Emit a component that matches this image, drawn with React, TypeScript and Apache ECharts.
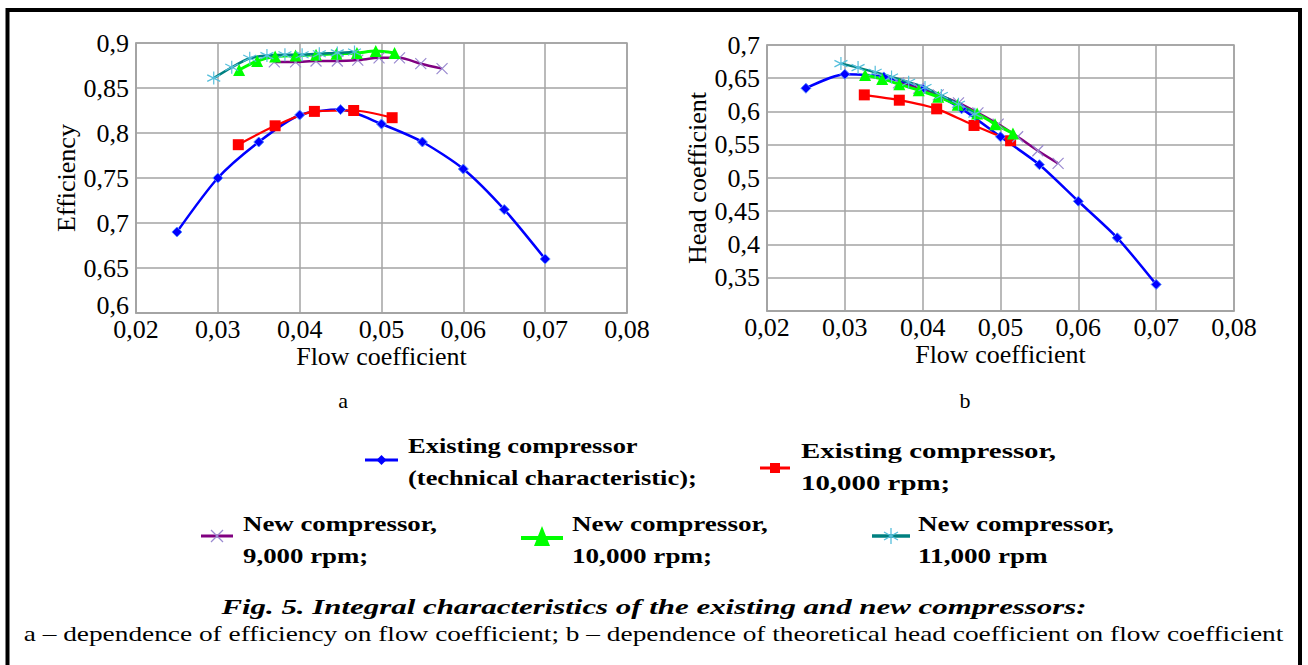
import React, { useEffect, useRef } from "react";
import * as echarts from "echarts";

// ---- data ----
const existingFlow = [0.025, 0.03, 0.035, 0.04, 0.045, 0.05, 0.055, 0.06, 0.065, 0.07];
const existingEff = [0.69, 0.75, 0.79, 0.82, 0.826, 0.81, 0.79, 0.76, 0.715, 0.66];
const existingHead = [0.635, 0.656, 0.652, 0.634, 0.604, 0.562, 0.52, 0.465, 0.41, 0.34];

const exist10Flow = [0.0325, 0.037, 0.0418, 0.0466, 0.0513];
const exist10Eff = [0.787, 0.808, 0.824, 0.825, 0.817];
const exist10Head = [0.625, 0.617, 0.604, 0.579, 0.556];

const new9Flow = [0.0369, 0.0395, 0.042, 0.0446, 0.0471, 0.0497, 0.0522, 0.0548, 0.0574];
const new9Eff = [0.879, 0.879, 0.88, 0.88, 0.881, 0.8835, 0.8835, 0.877, 0.8715];
const new9Head = [0.643, 0.635, 0.625, 0.613, 0.598, 0.581, 0.562, 0.541, 0.522];

const new10Flow = [0.0326, 0.0348, 0.037, 0.0395, 0.042, 0.0445, 0.047, 0.0493, 0.0516];
const new10Eff = [0.87, 0.88, 0.885, 0.886, 0.887, 0.888, 0.889, 0.891, 0.889];
const new10Head = [0.655, 0.649, 0.641, 0.632, 0.622, 0.61, 0.597, 0.581, 0.567];

const new11Flow = [0.0295, 0.0317, 0.0339, 0.036, 0.0382, 0.0403, 0.0424, 0.0446, 0.0467];
const new11Eff = [0.861, 0.873, 0.883, 0.886, 0.887, 0.887, 0.888, 0.889, 0.89];
const new11Head = [0.672, 0.666, 0.659, 0.652, 0.644, 0.636, 0.624, 0.611, 0.596];

const legendLabels = [
  "Existing compressor\n(technical characteristic);",
  "Existing compressor,\n10,000 rpm;",
  "New compressor,\n9,000 rpm;",
  "New compressor,\n10,000 rpm;",
  "New compressor,\n11,000 rpm",
];
const captionTitle = "Fig. 5. Integral characteristics of the existing and new compressors:";
const captionText =
  "a \u2013 dependence of efficiency on flow coefficient; b \u2013 dependence of theoretical head coefficient on flow coefficient";

const COLORS = {
  blue: "#0000ff",
  red: "#ff0000",
  purple: "#800080",
  purpleMark: "#9a8ad0",
  green: "#00ff00",
  teal: "#008080",
  tealMark: "#55bfdc",
};

const SERIF = "Liberation Serif";
const GRID_GRAY = "#a3a3a3";

const crossPath = "path://M0,0L10,10M10,0L0,10";
const starPath = "path://M5,0L5,10M0.7,2.5L9.3,7.5M9.3,2.5L0.7,7.5";

function measure(text: string, font: string): number {
  const c = document.createElement("canvas");
  const ctx = c.getContext("2d");
  if (!ctx) return 1;
  ctx.font = font;
  return ctx.measureText(text).width || 1;
}

const fmt = (v: number) => String(parseFloat(v.toFixed(3))).replace(".", ",");

function buildOption() {
  const labelStyle = { color: "#000", fontFamily: SERIF, fontSize: 26 };
  const axisCommon = {
    type: "value" as const,
    axisLine: { show: true, lineStyle: { color: GRID_GRAY, width: 1.5 } },
    axisTick: { show: false },
    splitLine: { show: true, lineStyle: { color: GRID_GRAY, width: 1.5 } },
    nameTextStyle: { color: "#000", fontFamily: SERIF, fontSize: 26 },
  };
  const xAxis = [0, 1].map((g) => ({
    ...axisCommon,
    gridIndex: g,
    min: 0.02,
    max: 0.08,
    interval: 0.01,
    name: "Flow coefficient",
    nameLocation: "middle",
    nameGap: 30,
    axisLabel: { ...labelStyle, margin: 3, formatter: fmt },
  }));
  const yAxis = [
    {
      ...axisCommon,
      gridIndex: 0,
      min: 0.6,
      max: 0.9,
      interval: 0.05,
      name: "Efficiency",
      nameLocation: "middle",
      nameRotate: 90,
      nameGap: 54,
      axisLabel: {
        ...labelStyle,
        margin: 7,
        formatter: (v: number) => (Math.abs(v - 0.6) < 1e-9 ? `{low|${fmt(v)}}` : fmt(v)),
        rich: { low: { ...labelStyle, padding: [0, 0, 16, 0] } },
      },
    },
    {
      ...axisCommon,
      gridIndex: 1,
      min: 0.3,
      max: 0.7,
      interval: 0.05,
      name: "Head coefficient",
      nameLocation: "middle",
      nameRotate: 90,
      nameGap: 52,
      axisLabel: { ...labelStyle, margin: 7, showMinLabel: false, formatter: fmt },
    },
  ];

  const mk = (
    name: string,
    xs: number[],
    ys: number[],
    idx: number,
    line: string,
    width: number,
    symbol: string,
    size: number,
    fill: string,
    stroke: string,
    strokeW: number
  ) => ({
    type: "line",
    name,
    xAxisIndex: idx,
    yAxisIndex: idx,
    data: xs.map((x, i) => [x, ys[i]]),
    smooth: 0.25,
    symbol,
    symbolSize: size,
    showSymbol: true,
    lineStyle: { color: line, width },
    itemStyle: { color: fill, borderColor: stroke, borderWidth: strokeW },
  });

  const series: any[] = [];
  [0, 1].forEach((idx) => {
    const e = idx === 0;
    series.push(
      mk("existing", existingFlow, e ? existingEff : existingHead, idx, COLORS.blue, 2.5, "diamond", 10, COLORS.blue, "#5b8cff", 1),
      mk("existing10", exist10Flow, e ? exist10Eff : exist10Head, idx, COLORS.red, 2.2, "rect", 11, COLORS.red, COLORS.red, 0),
      mk("new9", new9Flow, e ? new9Eff : new9Head, idx, COLORS.purple, 2.5, crossPath, 11, COLORS.purpleMark, COLORS.purpleMark, 1.2),
      mk("new10", new10Flow, e ? new10Eff : new10Head, idx, COLORS.green, 3, "triangle", 12, COLORS.green, COLORS.green, 0),
      mk("new11", new11Flow, e ? new11Eff : new11Head, idx, COLORS.teal, 2.5, starPath, 13, COLORS.tealMark, COLORS.tealMark, 1.2)
    );
  });

  // ---- graphic: legend, captions, frame ----
  const legendFont = `bold 22px ${SERIF}`;
  const fitText = (text: string, font: string, target: number) => {
    const lines = text.split("\n");
    const w = Math.max(...lines.map((l) => measure(l, font)));
    return target / w;
  };
  const legendText = (x: number, y: number, text: string, target: number) => ({
    type: "text",
    x,
    y,
    scaleX: fitText(text, legendFont, target),
    style: {
      text,
      fill: "#000",
      font: legendFont,
      lineHeight: 32,
      textAlign: "left",
      textVerticalAlign: "top",
    },
  });
  const legLine = (x1: number, x2: number, y: number, color: string, w: number) => ({
    type: "line",
    shape: { x1, y1: y, x2, y2: y },
    style: { stroke: color, lineWidth: w },
  });

  const titleFont = `italic bold 22px ${SERIF}`;
  const textFont = `22px ${SERIF}`;

  const graphic: any[] = [
    {
      type: "rect",
      shape: { x: 7.5, y: 10, width: 1292.5, height: 660 },
      style: { fill: "none", stroke: "#000", lineWidth: 4 },
      silent: true,
    },
    { type: "text", x: 343, y: 400, style: { text: "a", font: textFont, fill: "#000", textAlign: "center", textVerticalAlign: "middle" } },
    { type: "text", x: 965, y: 400, style: { text: "b", font: textFont, fill: "#000", textAlign: "center", textVerticalAlign: "middle" } },
    {
      type: "text",
      x: 654,
      y: 607,
      scaleX: 866 / measure(captionTitle, titleFont),
      style: { text: captionTitle, font: titleFont, fill: "#000", textAlign: "center", textVerticalAlign: "middle" },
    },
    {
      type: "text",
      x: 653.5,
      y: 633,
      scaleX: 1261 / measure(captionText, textFont),
      style: { text: captionText, font: textFont, fill: "#000", textAlign: "center", textVerticalAlign: "middle" },
    },
    // legend entry 1: blue diamond
    legLine(365, 398, 460, COLORS.blue, 3),
    { type: "polygon", shape: { points: [[381.5, 455], [386.5, 460], [381.5, 465], [376.5, 460]] }, style: { fill: COLORS.blue } },
    legendText(408, 429, legendLabels[0], 289),
    // legend entry 2: red square
    legLine(760, 790, 468, COLORS.red, 3),
    { type: "rect", shape: { x: 770, y: 463, width: 10, height: 10 }, style: { fill: COLORS.red } },
    legendText(801, 435, legendLabels[1], 255),
    // legend entry 3: purple cross
    legLine(201, 233, 536, COLORS.purple, 3),
    { type: "line", shape: { x1: 211, y1: 530, x2: 223, y2: 542 }, style: { stroke: COLORS.purpleMark, lineWidth: 1.3 } },
    { type: "line", shape: { x1: 223, y1: 530, x2: 211, y2: 542 }, style: { stroke: COLORS.purpleMark, lineWidth: 1.3 } },
    legendText(243, 507, legendLabels[2], 194),
    // legend entry 4: green triangle
    legLine(521, 563, 538, COLORS.green, 4),
    { type: "polygon", shape: { points: [[542, 526], [550, 546], [534, 546]] }, style: { fill: COLORS.green } },
    legendText(572, 507, legendLabels[3], 196),
    // legend entry 5: teal asterisk
    legLine(872, 910, 536, COLORS.teal, 3.5),
    { type: "line", shape: { x1: 891, y1: 528, x2: 891, y2: 544 }, style: { stroke: COLORS.tealMark, lineWidth: 1.3 } },
    { type: "line", shape: { x1: 884, y1: 532, x2: 898, y2: 540 }, style: { stroke: COLORS.tealMark, lineWidth: 1.3 } },
    { type: "line", shape: { x1: 898, y1: 532, x2: 884, y2: 540 }, style: { stroke: COLORS.tealMark, lineWidth: 1.3 } },
    legendText(918, 507, legendLabels[4], 196),
  ];

  return {
    animation: false,
    backgroundColor: "#ffffff",
    grid: [
      { left: 136, right: 1308 - 627, top: 43, bottom: 665 - 313, show: true, borderColor: GRID_GRAY, borderWidth: 1.5, backgroundColor: "transparent" },
      { left: 767, right: 1308 - 1234, top: 45, bottom: 665 - 311, show: true, borderColor: GRID_GRAY, borderWidth: 1.5, backgroundColor: "transparent" },
    ],
    xAxis,
    yAxis,
    series,
    graphic,
  };
}

export default function App() {
  const ref = useRef<HTMLDivElement>(null);
  useEffect(() => {
    document.body.style.margin = "0";
    if (!ref.current) return;
    const chart = echarts.init(ref.current, undefined, { renderer: "svg" });
    chart.setOption(buildOption() as any);
    return () => chart.dispose();
  }, []);
  return <div ref={ref} style={{ position: "absolute", left: 0, top: 0, width: 1308, height: 665 }} />;
}
